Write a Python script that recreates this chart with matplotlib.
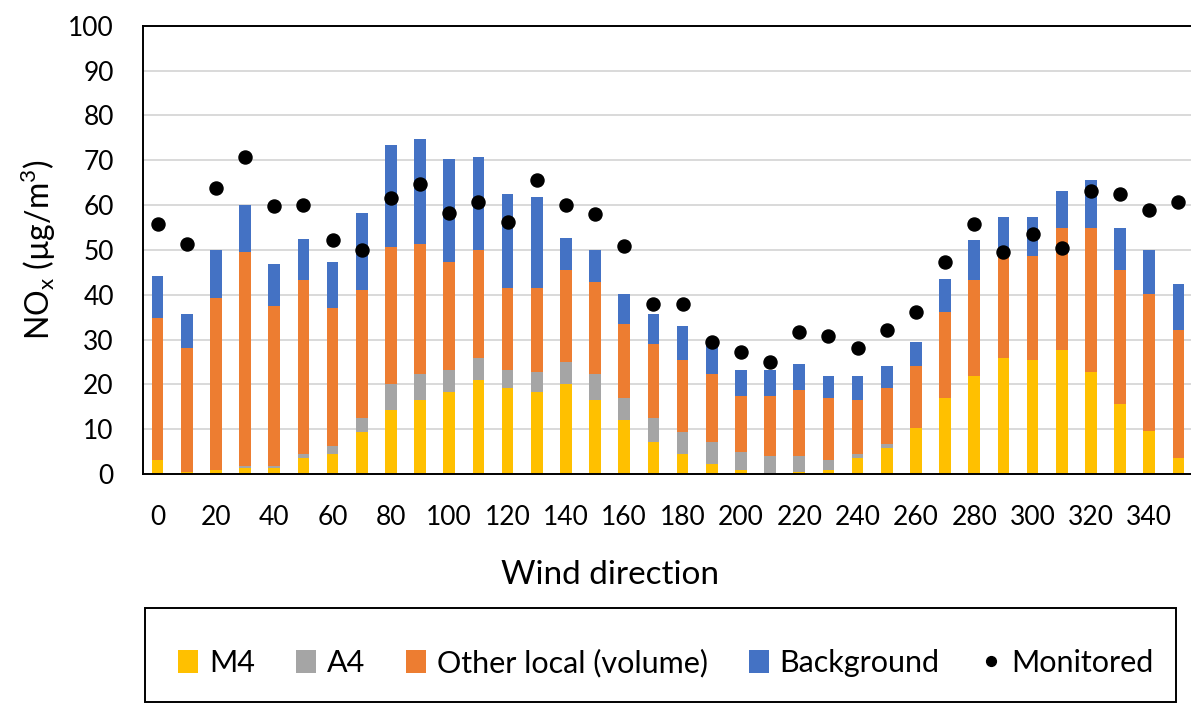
import numpy as np
import matplotlib
matplotlib.use("Agg")
import matplotlib.pyplot as plt
from matplotlib.patches import Rectangle

plt.rcParams['font.family'] = ['Lato', 'DejaVu Sans']
plt.rcParams['mathtext.fontset'] = 'custom'
plt.rcParams['mathtext.rm'] = 'Lato'

# ---------------------------- data ----------------------------
directions = list(range(0, 360, 10))

m4 = [3.1, 0.5, 1.0, 1.4, 1.4, 3.6, 4.5, 9.4, 14.3, 16.5, 18.3, 21.0,
      19.2, 18.3, 20.1, 16.5, 12.1, 7.1, 4.5, 2.2, 0.9, 0.0, 0.4, 0.9,
      3.6, 5.8, 10.2, 16.9, 21.8, 25.8, 25.4, 27.6, 22.7, 15.6, 9.7, 3.6]
a4 = [0.0, 0.0, 0.0, 0.4, 0.4, 0.9, 1.8, 3.1, 5.8, 5.8, 4.9, 4.9,
      4.0, 4.5, 4.9, 5.8, 4.9, 5.4, 4.9, 4.9, 4.0, 4.0, 3.6, 2.2,
      0.9, 0.9, 0.0, 0.0, 0.0, 0.0, 0.0, 0.0, 0.0, 0.0, 0.0, 0.0]
other_local = [31.6, 27.5, 38.2, 47.7, 35.6, 38.7, 30.7, 28.5, 30.6, 28.9, 24.0, 24.0,
               18.2, 18.6, 20.5, 20.5, 16.4, 16.4, 16.0, 15.1, 12.4, 13.3, 14.7, 13.8,
               11.9, 12.4, 13.8, 19.2, 21.4, 22.8, 23.2, 27.2, 32.1, 29.9, 30.4, 28.5]
background = [9.4, 7.6, 10.7, 10.6, 9.4, 9.3, 10.2, 17.3, 22.7, 23.6, 23.1, 20.9,
              21.0, 20.5, 7.1, 7.1, 6.7, 6.7, 7.6, 6.8, 5.8, 5.8, 5.8, 4.9,
              5.4, 4.9, 5.4, 7.5, 8.9, 8.8, 8.8, 8.4, 10.7, 9.3, 9.8, 10.2]
monitored = [55.7, 51.3, 63.7, 70.8, 59.7, 60.1, 52.2, 49.9, 61.5, 64.6, 58.3, 60.6,
             56.2, 65.5, 60.1, 58.0, 50.8, 37.9, 37.9, 29.4, 27.2, 24.9, 31.6, 30.7,
             28.1, 32.1, 36.1, 47.2, 55.7, 49.5, 53.5, 50.4, 63.2, 62.4, 58.8, 60.6]

series = [("M4", m4, "#FFC000"),
          ("A4", a4, "#A5A5A5"),
          ("Other local (volume)", other_local, "#ED7D31"),
          ("Background", background, "#4472C4")]

# ---------------------------------- figure ----------------------------------
W, H = 1191, 707
fig = plt.figure(figsize=(W / 100, H / 100), dpi=100)
ax = fig.add_axes([143 / W, (H - 474) / H, (1193 - 143) / W, (474 - 25.7) / H])

x = np.arange(len(directions))
bottom = np.zeros(len(directions))
handles = []
for name, vals, col in series:
    vals = np.array(vals)
    b = ax.bar(x, vals, width=0.40, bottom=bottom, color=col, label=name, zorder=2)
    handles.append(b)
    bottom += vals

dots, = ax.plot(x, monitored, 'o', color='black', markersize=9.4, linestyle='none',
                label="Monitored", zorder=3)
handles.append(dots)

ax.set_xlim(-0.5, len(directions) - 0.5)
ax.set_ylim(0, 100)
ax.set_yticks(range(0, 101, 10))
ax.set_xticks(x[::2])
ax.set_xticklabels([str(d) for d in directions[::2]])
ax.tick_params(axis='both', length=0, labelsize=19, colors='black')
ax.tick_params(axis='x', pad=22)
ax.tick_params(axis='y', pad=21)

ax.grid(axis='y', color='#d9d9d9', linewidth=1.4, zorder=0)
ax.set_axisbelow(True)
for side in ['top', 'left', 'bottom']:
    ax.spines[side].set_linewidth(1.4)
    ax.spines[side].set_color('black')
ax.spines['right'].set_visible(False)

# axis titles
fig.text(38 / W, 1 - 250 / H, r'NO$_\mathregular{x}$ (µg/m$^\mathregular{3}$)',
         rotation=90, ha='center', va='center', fontsize=23)
fig.text(610 / W, 1 - 575 / H, "Wind direction", ha='center', va='center', fontsize=24)

# legend box + legend
fig.add_artist(Rectangle((145 / W, 1 - 702 / H), (1176 - 145) / W, (702 - 608) / H,
                         transform=fig.transFigure, fill=False, edgecolor='black',
                         linewidth=1.4))
fig.legend(handles=handles, loc='center', bbox_to_anchor=(666 / W, 1 - 663 / H),
           ncol=5, frameon=False, fontsize=22, handlelength=0.65, handleheight=0.75,
           handletextpad=0.35, columnspacing=1.35, markerscale=0.75)

fig.savefig("out.png", dpi=100)
